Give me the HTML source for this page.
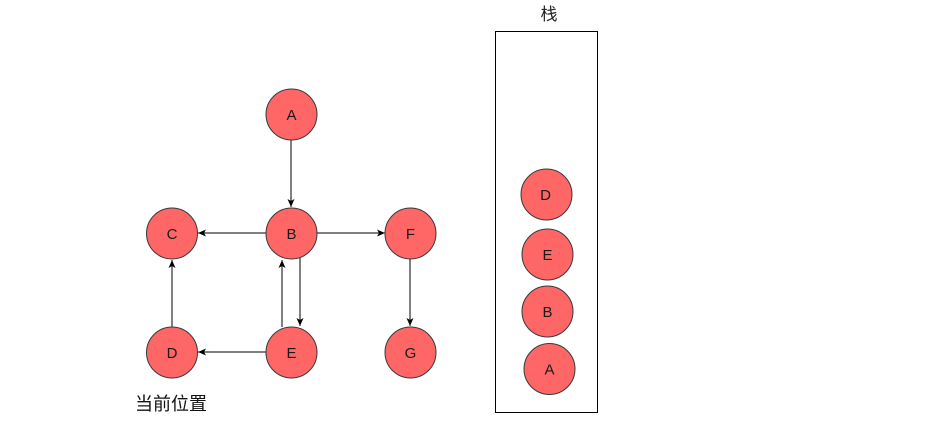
<!DOCTYPE html>
<html>
<head>
<meta charset="utf-8">
<style>
html,body{margin:0;padding:0;background:#fff;}
svg{display:block;}
</style>
</head>
<body>
<svg width="928" height="438" viewBox="0 0 928 438" xmlns="http://www.w3.org/2000/svg">
<defs>
<marker id="ar" markerWidth="10" markerHeight="10" refX="9" refY="5" orient="auto" markerUnits="userSpaceOnUse">
<path d="M1,1.5 L9,5 L1,8.5 L3,5 Z" fill="#000"/>
</marker>
</defs>
<rect width="928" height="438" fill="#fff"/>
<g stroke="#000" stroke-width="1" fill="none">
<line x1="291" y1="140" x2="291" y2="207" marker-end="url(#ar)"/>
<line x1="266" y1="233" x2="198" y2="233" marker-end="url(#ar)"/>
<line x1="317" y1="233" x2="385" y2="233" marker-end="url(#ar)"/>
<line x1="410" y1="259" x2="410" y2="326" marker-end="url(#ar)"/>
<line x1="172" y1="327" x2="172" y2="260" marker-end="url(#ar)"/>
<line x1="266" y1="352" x2="198" y2="352" marker-end="url(#ar)"/>
<line x1="282" y1="327" x2="282" y2="260" marker-end="url(#ar)"/>
<line x1="300" y1="258" x2="300" y2="326" marker-end="url(#ar)"/>
</g>
<g fill="#FF6666" stroke="#36393d" stroke-width="1">
<circle cx="291.5" cy="114.5" r="25.5"/>
<circle cx="172" cy="233.5" r="25.5"/>
<circle cx="291.5" cy="233.5" r="25.5"/>
<circle cx="410.5" cy="233.5" r="25.5"/>
<circle cx="172" cy="352.5" r="25.5"/>
<circle cx="291.5" cy="352.5" r="25.5"/>
<circle cx="410.5" cy="352.5" r="25.5"/>
<circle cx="546.5" cy="194.5" r="25.5"/>
<circle cx="547.5" cy="254.5" r="25.5"/>
<circle cx="547.5" cy="311.5" r="25.5"/>
<circle cx="549.5" cy="369" r="25.5"/>
</g>
<g font-family="'Liberation Sans', Arial, sans-serif" font-size="15" fill="#1a1a1a" text-anchor="middle">
<text x="291.5" y="120">A</text>
<text x="172" y="239">C</text>
<text x="291.5" y="239">B</text>
<text x="410.5" y="239">F</text>
<text x="172" y="358">D</text>
<text x="291.5" y="358">E</text>
<text x="410.5" y="358">G</text>
<text x="545.5" y="200">D</text>
<text x="547.5" y="260">E</text>
<text x="547.5" y="317">B</text>
<text x="549.5" y="374.5">A</text>
</g>
<rect x="495.5" y="31.5" width="102" height="381" fill="none" stroke="#000" stroke-width="1"/>
<text x="549" y="20" font-family="'Liberation Sans','Noto Sans CJK SC',sans-serif" font-size="17" fill="#222" text-anchor="middle">栈</text>
<text x="135" y="410" font-family="'Liberation Sans','Noto Sans CJK SC',sans-serif" font-size="18" fill="#111">当前位置</text>
</svg>
</body>
</html>
